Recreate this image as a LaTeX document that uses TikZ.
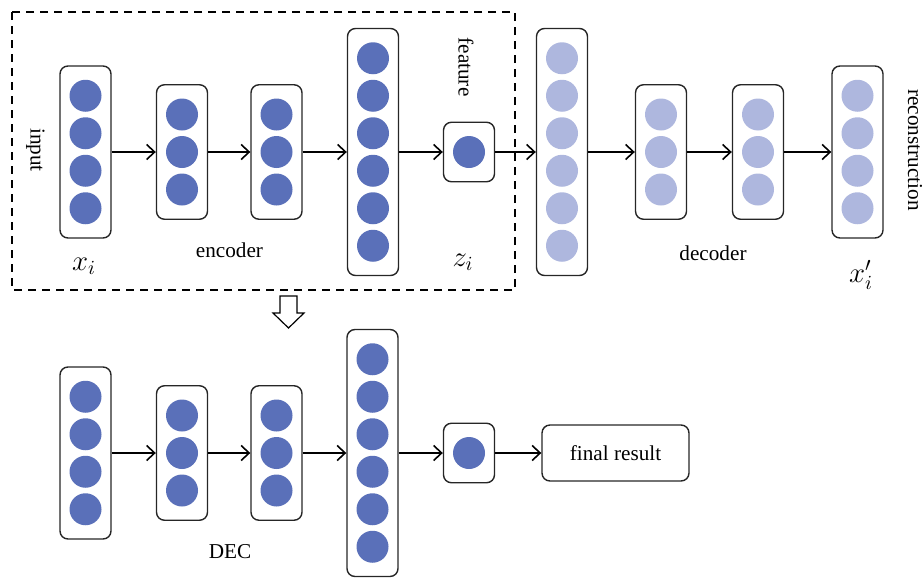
\documentclass[tikz,border=0pt]{standalone}
\usepackage{fontspec}
\setmainfont{Liberation Serif}
\usetikzlibrary{arrows.meta,calc}
\definecolor{unitdark}{HTML}{5A70B9}
\definecolor{unitlight}{HTML}{AEB7DE}
\tikzset{
  layerbox/.style={rectangle,rounded corners=4pt,draw=black!85,line width=0.7pt,minimum width=25.5pt,inner sep=0pt},
  neuron/.style={circle,minimum size=16pt,inner sep=0pt},
  arrow/.style={-{Straight Barb[length=4pt,width=7.5pt]},line width=0.8pt},
  tag/.style={font=\fontsize{10.6}{12}\selectfont,inner sep=0pt},
  vtag/.style={tag,rotate=-90},
  sym/.style={font=\fontsize{14}{16}\selectfont,inner sep=0pt},
  dashbox/.style={dash pattern=on 4pt off 3pt,line width=0.8pt}
}
% box of #4 neurons: name, x, y, count, colour
\newcommand{\nnlayer}[5]{%
  \node[layerbox,minimum height={(#4*37.5+22)*0.5pt}] (#1) at (#2,#3) {};
  \foreach \k in {1,...,#4}
    \node[neuron,fill=#5] (#1-\k) at ($(#1.center)+(0,{(\k-(#4+1)/2)*37.5})$) {};
}

\begin{document}
\begin{tikzpicture}[x=0.5pt,y=-0.5pt]
    \useasboundingbox (0,0) rectangle (924,578);
    % autoencoder
    \draw[dashbox] (12,12) rectangle (515,290);
    \nnlayer{in}{85.5}{152}{4}{unitdark}
    \nnlayer{enc1}{182}{152}{3}{unitdark}
    \nnlayer{enc2}{276.5}{152}{3}{unitdark}
    \nnlayer{enc3}{373}{152}{6}{unitdark}
    \nnlayer{z}{469}{152}{1}{unitdark}
    \nnlayer{dec1}{562}{152}{6}{unitlight}
    \nnlayer{dec2}{661}{152}{3}{unitlight}
    \nnlayer{dec3}{758}{152}{3}{unitlight}
    \nnlayer{out}{857.5}{152}{4}{unitlight}
    \draw[arrow] (in) -- (enc1); \draw[arrow] (enc1) -- (enc2); \draw[arrow] (enc2) -- (enc3);
    \draw[arrow] (enc3) -- (z); \draw[arrow] (z) -- (dec1);
    \draw[arrow] (dec1) -- (dec2); \draw[arrow] (dec2) -- (dec3); \draw[arrow] (dec3) -- (out);
    \node[vtag] (lblin) at (35.5,150) {input};
    \node[vtag] (lblfeat) at (466,67) {feature};
    \node[vtag] (lblrec) at (915,150) {reconstruction};
    \node[tag,anchor=base] (lblenc) at (229.5,257) {encoder};
    \node[tag,anchor=base] (lbldec) at (713,260) {decoder};
    \node[sym] (lblx) at (84,266) {$x_i$};
    \node[sym] (lblz) at (463,262) {$z_i$};
    \node[sym] (lblxr) at (861,275) {$x'_i$};
    % hand-over arrow
    \draw[line width=0.6pt,fill=white] (280,296) -- (297,296) -- (297,313) -- (304,313)
      -- (288.5,328) -- (273,313) -- (280,313) -- cycle;
    % DEC
    \nnlayer{b1}{85.5}{453}{4}{unitdark}
    \nnlayer{b2}{182}{453}{3}{unitdark}
    \nnlayer{b3}{276.5}{453}{3}{unitdark}
    \nnlayer{b4}{372.5}{453}{6}{unitdark}
    \nnlayer{b5}{469}{453}{1}{unitdark}
    \node[layerbox,tag,minimum width=73.5pt,minimum height=28pt] (res) at (615.5,453) {final result};
    \draw[arrow] (b1) -- (b2); \draw[arrow] (b2) -- (b3); \draw[arrow] (b3) -- (b4);
    \draw[arrow] (b4) -- (b5); \draw[arrow] (b5.east) -- (res.west);
    \node[tag,anchor=base] (lbldec2) at (230,558) {DEC};
\end{tikzpicture}
\end{document}
